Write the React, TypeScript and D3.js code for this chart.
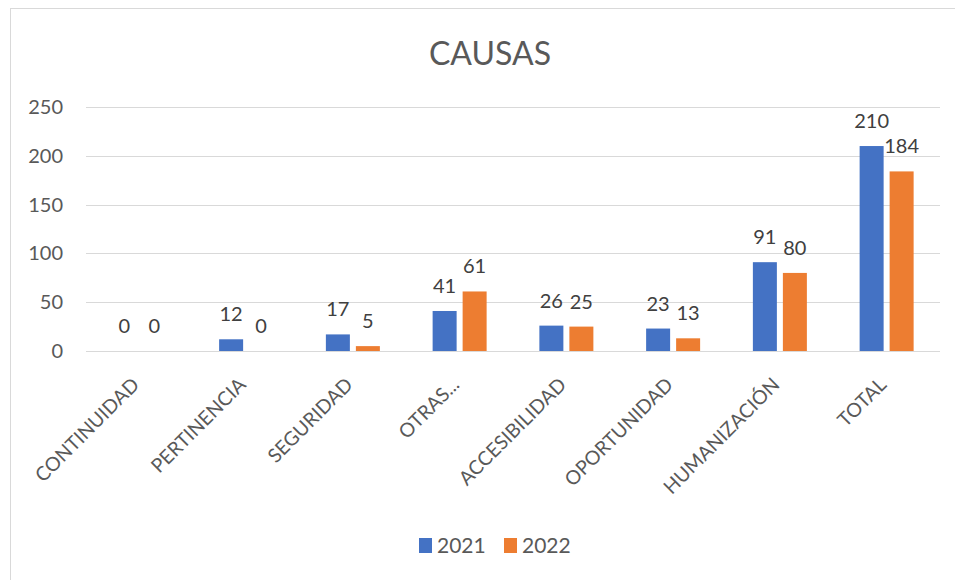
import { useEffect, useRef } from "react";
import * as d3 from "d3";

const categories = [
  "CONTINUIDAD",
  "PERTINENCIA",
  "SEGURIDAD",
  "OTRAS...",
  "ACCESIBILIDAD",
  "OPORTUNIDAD",
  "HUMANIZACIÓN",
  "TOTAL",
];
const seriesNames = ["2021", "2022"];
const values2021 = [0, 12, 17, 41, 26, 23, 91, 210];
const values2022 = [0, 0, 5, 61, 25, 13, 80, 184];
const yTicks = [0, 50, 100, 150, 200, 250];
const colors = ["#4472C4", "#ED7D31"];

const W = 955, H = 580;
const margin = { top: 107, right: 15, bottom: 229, left: 86 };
const font = "Lato, 'Open Sans', sans-serif";

export default function App() {
  const ref = useRef<SVGSVGElement>(null);

  useEffect(() => {
    const svg = d3.select(ref.current);
    svg.selectAll("*").remove();

    const width = W - margin.left - margin.right;
    const height = H - margin.top - margin.bottom;

    // chart frame
    svg.append("rect")
      .attr("x", 10.5).attr("y", 8.5)
      .attr("width", W + 10).attr("height", H + 10)
      .attr("fill", "#fff")
      .attr("stroke", "#d9d9d9");

    svg.append("text")
      .attr("x", 490).attr("y", 65)
      .attr("text-anchor", "middle")
      .attr("font-family", font)
      .attr("font-size", 32)
      .attr("fill", "#595959")
      .text("CAUSAS");

    const g = svg.append("g")
      .attr("transform", `translate(${margin.left},${margin.top})`);

    const x0 = d3.scaleBand().domain(categories).range([0, width]).padding(0);
    const groupW = 54;
    const x1 = d3.scaleBand().domain(seriesNames).range([0, groupW]).paddingInner(0.2);
    const y = d3.scaleLinear().domain([0, 250]).range([height, 0]);

    // gridlines
    g.selectAll("line.grid")
      .data(yTicks)
      .join("line")
      .attr("x1", 0).attr("x2", width)
      .attr("y1", d => Math.round(y(d)) + 0.5)
      .attr("y2", d => Math.round(y(d)) + 0.5)
      .attr("stroke", "#d9d9d9")
      .attr("stroke-width", 1.2);

    // y tick labels
    g.selectAll("text.ytick")
      .data(yTicks)
      .join("text")
      .attr("x", -23)
      .attr("y", d => y(d))
      .attr("dy", "0.35em")
      .attr("text-anchor", "end")
      .attr("font-family", font)
      .attr("font-size", 20)
      .attr("fill", "#595959")
      .text(d => d);

    const series = [values2021, values2022];
    const data = categories.flatMap((c, i) =>
      seriesNames.map((s, j) => ({ cat: c, key: s, value: series[j][i], color: colors[j] }))
    );
    const bx = (d: any) => x0(d.cat)! + (x0.bandwidth() - groupW) / 2 + x1(d.key)!;

    g.selectAll("rect.bar")
      .data(data)
      .join("rect")
      .attr("x", d => bx(d))
      .attr("y", d => y(d.value))
      .attr("width", x1.bandwidth())
      .attr("height", d => height - y(d.value))
      .attr("fill", d => d.color);

    g.selectAll("text.val")
      .data(data)
      .join("text")
      .attr("x", d => bx(d) + x1.bandwidth() / 2)
      .attr("y", d => y(d.value) - 18)
      .attr("text-anchor", "middle")
      .attr("font-family", font)
      .attr("font-size", 20)
      .attr("fill", "#404040")
      .text(d => d.value);

    // category labels, rotated
    g.selectAll("text.cat")
      .data(categories)
      .join("text")
      .attr("transform", d => `translate(${x0(d)! + x0.bandwidth() / 2 + 1},${height + 35}) rotate(-45)`)
      .attr("text-anchor", "end")
      .attr("font-family", font)
      .attr("font-size", 19.5)
      .attr("fill", "#595959")
      .text(d => d);

    // legend
    const legend = svg.append("g").attr("transform", "translate(419,538)");
    seriesNames.forEach((s, i) => {
      const lg = legend.append("g").attr("transform", `translate(${i * 85},0)`);
      lg.append("rect").attr("width", 13).attr("height", 15).attr("fill", colors[i]);
      lg.append("text")
        .attr("x", 18).attr("y", 7.5)
        .attr("dy", "0.35em")
        .attr("font-family", font)
        .attr("font-size", 21)
        .attr("fill", "#595959")
        .text(s);
    });
  }, []);

  return (
    <svg ref={ref} width={W} height={H}
      style={{ position: "absolute", left: 0, top: 0, display: "block" }} />
  );
}
